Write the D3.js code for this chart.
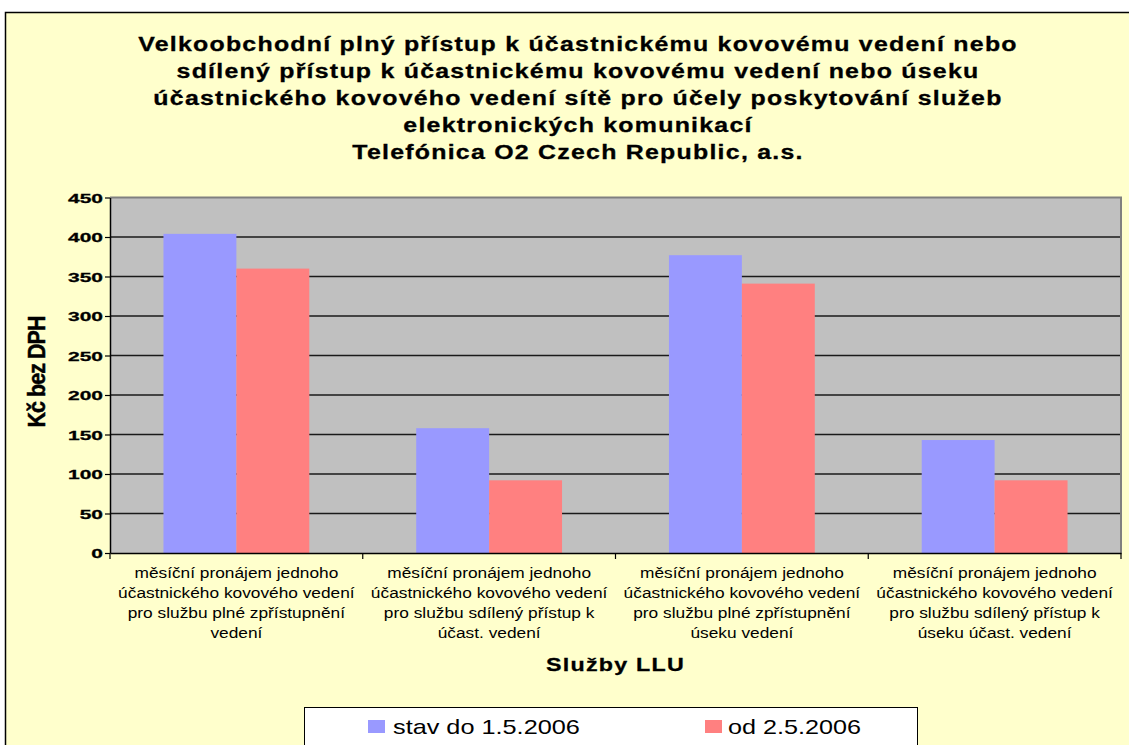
<!DOCTYPE html>
<html>
<head>
<meta charset="utf-8">
<script src="https://cdn.jsdelivr.net/npm/d3@7"></script>
<style>
  body { margin: 0; background: #fff; }
  text { font-family: "Liberation Sans", Arial, sans-serif; }
</style>
</head>
<body>
<script>
// data
const titleLines = [
  "Velkoobchodní plný přístup k účastnickému kovovému vedení nebo",
  "sdílený přístup k účastnickému kovovému vedení nebo úseku",
  "účastnického kovového vedení sítě pro účely poskytování služeb",
  "elektronických komunikací",
  "Telefónica O2 Czech Republic, a.s.",
];
const categories = [
  ["měsíční pronájem jednoho", "účastnického kovového vedení", "pro službu plné zpřístupnění", "vedení"],
  ["měsíční pronájem jednoho", "účastnického kovového vedení", "pro službu sdílený přístup k", "účast. vedení"],
  ["měsíční pronájem jednoho", "účastnického kovového vedení", "pro službu plné zpřístupnění", "úseku vedení"],
  ["měsíční pronájem jednoho", "účastnického kovového vedení", "pro službu sdílený přístup k", "úseku účast. vedení"],
];
const seriesNames = ["stav do 1.5.2006", "od 2.5.2006"];
const stavDo = [404, 158, 377, 143];
const od = [360, 92, 341, 92];
const yTicks = [0, 50, 100, 150, 200, 250, 300, 350, 400, 450];
const yTitle = "Kč bez DPH";
const xTitle = "Služby LLU";

const colors = ["#9999FF", "#FF8080"];
const width = 1129;
const height = 745;
const plotLeft = 110, plotRight = 1121, plotTop = 197.5, plotBottom = 553;

const svg = d3.select("body").append("svg")
  .attr("width", width).attr("height", height);

// chart area
svg.append("rect")
  .attr("x", 5.5).attr("y", 12.5)
  .attr("width", 1200).attr("height", 800)
  .attr("fill", "#FFFFCC").attr("stroke", "#000").attr("stroke-width", 1.5);

// stretch a text so that it takes the given width
function fitScale(textSel, target) {
  return target / textSel.node().getComputedTextLength();
}

// title
const titleG = svg.append("g");
const titleTexts = titleLines.map((t, i) => {
  const g = titleG.append("g");
  const txt = g.append("text")
    .attr("text-anchor", "middle")
    .attr("font-size", 20)
    .attr("font-weight", "bold")
    .attr("letter-spacing", 1)
    .attr("stroke", "#000")
    .attr("stroke-width", 0.3)
    .attr("fill", "#000")
    .text(t);
  return { g, txt, i };
});
const titleSx = fitScale(titleTexts[0].txt, 880);
titleTexts.forEach(({ g, i }) => {
  g.attr("transform", `translate(578, ${51 + i * 27}) scale(${titleSx},1)`);
});

// scales
const y = d3.scaleLinear().domain([0, 450]).range([plotBottom, plotTop]);
const x0 = d3.scaleBand().domain(d3.range(categories.length)).range([plotLeft, plotRight]).padding(0);
const x1 = d3.scaleBand().domain(seriesNames).range([0, x0.bandwidth()])
  .paddingInner(0).paddingOuter(0.733);

// plot background
svg.append("rect")
  .attr("x", plotLeft).attr("y", plotTop)
  .attr("width", plotRight - plotLeft).attr("height", plotBottom - plotTop)
  .attr("fill", "#C0C0C0");

// gridlines
svg.append("g")
  .selectAll("line")
  .data(yTicks.filter((d) => d > 0 && d < 450))
  .join("line")
  .attr("x1", plotLeft).attr("x2", plotRight)
  .attr("y1", (d) => y(d)).attr("y2", (d) => y(d))
  .attr("stroke", "#1a1a1a").attr("stroke-width", 1.6);

// bars
const barData = [];
categories.forEach((c, i) => {
  barData.push({ cat: i, s: seriesNames[0], v: stavDo[i], c: colors[0] });
  barData.push({ cat: i, s: seriesNames[1], v: od[i], c: colors[1] });
});
svg.append("g")
  .selectAll("rect")
  .data(barData)
  .join("rect")
  .attr("x", (d) => x0(d.cat) + x1(d.s))
  .attr("y", (d) => y(d.v))
  .attr("width", x1.bandwidth())
  .attr("height", (d) => plotBottom - y(d.v))
  .attr("fill", (d) => d.c);

// plot frame (top / right)
svg.append("path")
  .attr("d", `M${plotLeft},${plotTop}H${plotRight}V${plotBottom}`)
  .attr("fill", "none").attr("stroke", "#808080").attr("stroke-width", 2);

// y axis
const yAxis = svg.append("g")
  .attr("transform", `translate(${plotLeft},0)`)
  .call(d3.axisLeft(y).tickValues(yTicks).tickSize(5).tickSizeOuter(0));
yAxis.select(".domain").attr("stroke", "#000").attr("stroke-width", 1.5);
yAxis.selectAll(".tick line").attr("stroke", "#000").attr("stroke-width", 1.2);
yAxis.selectAll(".tick text")
  .attr("font-family", "Liberation Sans, Arial, sans-serif")
  .attr("font-size", 13)
  .attr("font-weight", "bold")
  .attr("stroke", "#000")
  .attr("stroke-width", 0.3)
  .attr("fill", "#000")
  .attr("x", 0)
  .attr("dy", "0.36em");
const tickSx = fitScale(yAxis.selectAll(".tick text").filter((d) => d === 450), 35);
yAxis.selectAll(".tick text").attr("transform", `translate(-7,0) scale(${tickSx},1)`);

// x axis
const xAxis = svg.append("g")
  .attr("transform", `translate(0,${plotBottom})`)
  .call(d3.axisBottom(x0).tickSize(0).tickFormat(""));
xAxis.select(".domain").attr("stroke", "#000").attr("stroke-width", 1.5);
const bounds = x0.domain().map((d) => x0(d)).concat([x0.range()[1]]);
svg.append("g")
  .selectAll("line")
  .data(bounds)
  .join("line")
  .attr("x1", (d) => d).attr("x2", (d) => d)
  .attr("y1", plotBottom).attr("y2", plotBottom + 6)
  .attr("stroke", "#000").attr("stroke-width", 1.2);

// category labels
const catG = svg.append("g")
  .selectAll("g")
  .data(categories)
  .join("g");
catG.each(function (lines, i) {
  const g = d3.select(this);
  lines.forEach((l, j) => {
    g.append("g")
      .attr("class", "catline")
      .attr("data-x", x0(i) + x0.bandwidth() / 2)
      .attr("data-y", 578 + j * 20)
      .append("text")
      .attr("text-anchor", "middle")
      .attr("font-size", 14.5)
      .attr("fill", "#000")
      .text(l);
  });
});
const catSx = fitScale(svg.select(".catline text"), 204);
svg.selectAll(".catline").attr("transform", function () {
  return `translate(${this.getAttribute("data-x")},${this.getAttribute("data-y")}) scale(${catSx},1)`;
});

// x title
const xtG = svg.append("g");
const xt = xtG.append("text")
  .attr("text-anchor", "middle")
  .attr("font-size", 19)
  .attr("font-weight", "bold")
  .attr("letter-spacing", 1)
  .attr("stroke", "#000")
  .attr("stroke-width", 0.3)
  .text(xTitle);
xtG.attr("transform", `translate(${(plotLeft + plotRight) / 2},671) scale(${fitScale(xt, 139)},1)`);

// y title
const ytG = svg.append("g");
const yt = ytG.append("text")
  .attr("text-anchor", "middle")
  .attr("font-size", 19)
  .attr("font-weight", "bold")
  .attr("letter-spacing", -0.8)
  .attr("stroke", "#000")
  .attr("stroke-width", 0.4)
  .text(yTitle);
ytG.attr("transform", `translate(45,372) rotate(-90) scale(${fitScale(yt, 111)},1.25)`);

// legend
const legend = svg.append("g");
legend.append("rect")
  .attr("x", 304.5).attr("y", 707.5)
  .attr("width", 613).attr("height", 60)
  .attr("fill", "#fff").attr("stroke", "#000").attr("stroke-width", 1);
const legendPos = [{ sq: 368, tx: 393, w: 187 }, { sq: 705, tx: 728, w: 133 }];
seriesNames.forEach((name, i) => {
  legend.append("rect")
    .attr("x", legendPos[i].sq).attr("y", 720)
    .attr("width", 17).attr("height", 13)
    .attr("fill", colors[i]);
  const g = legend.append("g");
  const t = g.append("text")
    .attr("font-size", 20)
    .attr("fill", "#000")
    .text(name);
  g.attr("transform", `translate(${legendPos[i].tx},734) scale(${fitScale(t, legendPos[i].w)},1)`);
});
</script>
</body>
</html>
